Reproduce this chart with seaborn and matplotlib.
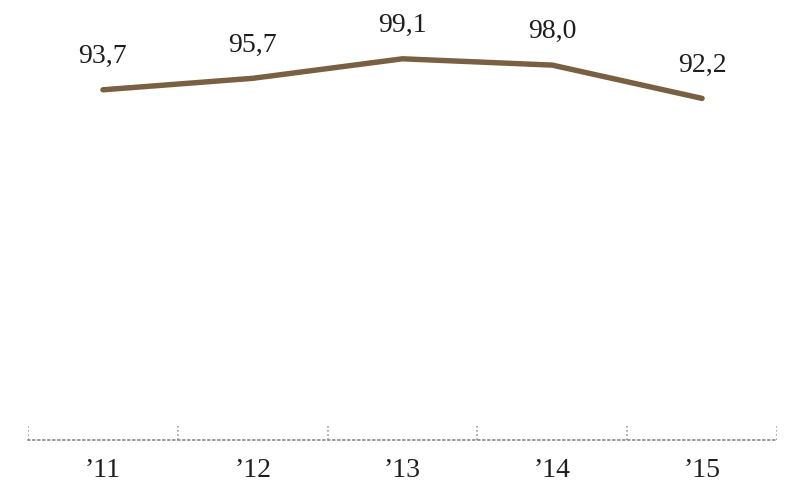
import numpy as np
import pandas as pd
import matplotlib
matplotlib.use("Agg")
import matplotlib.pyplot as plt
import seaborn as sns

years = ["\u201911", "\u201912", "\u201913", "\u201914", "\u201915"]
values = [93.7, 95.7, 99.1, 98.0, 92.2]
labels = ["93,7", "95,7", "99,1", "98,0", "92,2"]

df = pd.DataFrame({"year": years, "value": values})

sns.set_style("white")
plt.rcParams["font.family"] = ["Liberation Serif", "DejaVu Serif"]

fig = plt.figure(figsize=(7.88, 4.83), dpi=100)
ax = fig.add_axes([28 / 788, 43 / 483, 749 / 788, 430 / 483])

sns.lineplot(data=df, x="year", y="value", ax=ax, color="#7a6042",
             linewidth=3.9, sort=False, solid_capstyle="round")

for i, (v, lab) in enumerate(zip(values, labels)):
    ax.annotate(lab, (i, v), xytext=(0, 24), textcoords="offset points",
                ha="center", va="center", fontsize=20, color="#1e1e1e")

ax.set_xlim(-0.5, 4.5)
ax.set_ylim(32.7, 107.6)
ax.set_xlabel("")
ax.set_ylabel("")
ax.set_yticks([])

for s in ["top", "right", "left"]:
    ax.spines[s].set_visible(False)
ax.spines["bottom"].set_linestyle((0, (1, 2)))
ax.spines["bottom"].set_color("#888888")
ax.spines["bottom"].set_linewidth(1.2)

ax.set_xticks(range(len(years)))
ax.set_xticklabels(years, fontsize=20, color="#1e1e1e")
ax.tick_params(axis="x", which="major", bottom=True, length=0, pad=13)

# faint dotted separators between the years
for b in np.arange(-0.5, len(years), 1):
    ax.axvline(b, ymin=0, ymax=0.033, color="#9a9a9a", linewidth=1.2,
               linestyle=(0, (1, 1.5)))

fig.savefig("out.png", dpi=100)
